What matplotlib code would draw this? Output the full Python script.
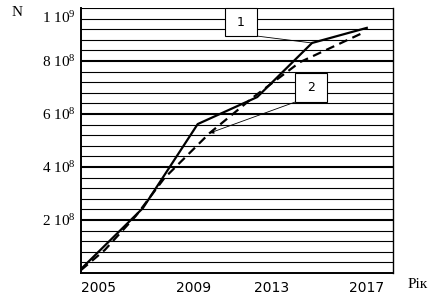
import numpy as np
import matplotlib.pyplot as plt
import matplotlib.transforms as mtransforms
from matplotlib.patches import Rectangle

# curve 1 (solid) and curve 2 (dashed)
years_1 = [2005.0, 2007.6, 2009.9, 2012.4, 2014.7, 2017.0]
n_1 = [0.015e9, 0.245e9, 0.562e9, 0.664e9, 0.868e9, 0.925e9]

years_2 = [2005.0, 2006.0, 2007.3, 2008.5, 2010.4, 2012.3, 2014.2, 2016.9]
n_2 = [0.011e9, 0.087e9, 0.215e9, 0.358e9, 0.528e9, 0.668e9, 0.796e9, 0.909e9]

x_ticks = [2005, 2009, 2013, 2017]
y_ticks = [2e8, 4e8, 6e8, 8e8, 1e9]
y_labels = ['2 10$^8$', '4 10$^8$', '6 10$^8$', '8 10$^8$', '1 10$^9$']

plt.rcParams['mathtext.default'] = 'regular'

fig = plt.figure(figsize=(4.43, 3.04), dpi=100)
ax = fig.add_axes([81 / 443, 1 - 273 / 304, 312 / 443, 265 / 304])

ax.set_xlim(2005, 2018.1)
ax.set_ylim(0, 1e9)

# horizontal rulings
ax.set_yticks(np.arange(0.04e9, 1.0001e9, 0.04e9), minor=True)
ax.set_yticks(y_ticks)
ax.set_yticklabels(y_labels, fontfamily='Liberation Serif', fontsize=11)
ax.grid(axis='y', which='minor', color='black', linewidth=0.8)
ax.grid(axis='y', which='major', color='black', linewidth=1.5)
ax.yaxis.get_gridlines()[-1].set_linewidth(0.8)
ax.tick_params(axis='y', which='both', length=0, pad=4)
top_lbl = ax.get_yticklabels()[-1]
top_lbl.set_transform(top_lbl.get_transform() +
                      mtransforms.ScaledTranslation(0, -6 / 72, fig.dpi_scale_trans))

ax.set_xticks(x_ticks)
ax.set_xticklabels([str(x) for x in x_ticks], fontfamily='DejaVu Sans', fontsize=10)
ax.tick_params(axis='x', length=0, pad=6)
ax.get_xticklabels()[0].set_ha('left')
ax.get_xticklabels()[1].set_ha('left')

ax.spines['top'].set_visible(False)
ax.spines['left'].set_linewidth(1.4)
ax.spines['bottom'].set_linewidth(1.4)
ax.spines['right'].set_linewidth(1.0)

ax.plot(years_1, n_1, color='black', linewidth=1.6, zorder=3)
ax.plot(years_2, n_2, color='black', linewidth=1.6, dashes=(4, 2.5), zorder=3)

# numbered boxes with leader lines
ax.add_patch(Rectangle((0.462, 0.894), 0.103, 0.106, transform=ax.transAxes,
                       facecolor='white', edgecolor='black', linewidth=0.8,
                       zorder=4, clip_on=False))
ax.text(0.513, 0.947, '1', transform=ax.transAxes, ha='center', va='center',
        fontsize=9, zorder=5)
ax.annotate('', xy=(years_1[4], n_1[4]), xytext=(0.565, 0.894),
            textcoords='axes fraction',
            arrowprops=dict(arrowstyle='-', color='black', linewidth=0.6,
                            shrinkA=0, shrinkB=0))

ax.add_patch(Rectangle((0.686, 0.645), 0.103, 0.109, transform=ax.transAxes,
                       facecolor='white', edgecolor='black', linewidth=0.8,
                       zorder=4))
ax.text(0.737, 0.70, '2', transform=ax.transAxes, ha='center', va='center',
        fontsize=9, zorder=5)
ax.annotate('', xy=(years_2[4], n_2[4]), xytext=(0.686, 0.645),
            textcoords='axes fraction',
            arrowprops=dict(arrowstyle='-|>', color='black', linewidth=0.6,
                            mutation_scale=6, shrinkA=0, shrinkB=0))

fig.text(12 / 443, 1 - 13 / 304, 'N', fontfamily='Liberation Serif',
         fontsize=11, va='center')
fig.text(408 / 443, 1 - 284 / 304, 'Рік', fontfamily='Liberation Serif',
         fontsize=11, va='center')

fig.savefig('out.png', dpi=100)
